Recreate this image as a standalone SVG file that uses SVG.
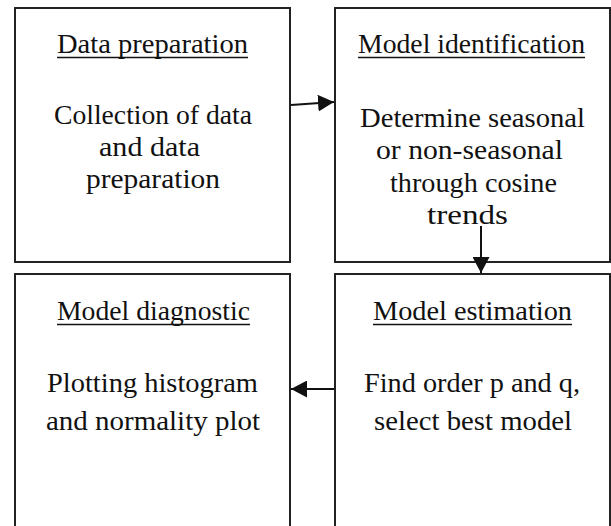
<svg xmlns="http://www.w3.org/2000/svg" width="611" height="526" viewBox="0 0 611 526">
  <defs>
    <style>
      .box { fill: #ffffff; stroke: #222222; stroke-width: 2; }
      .t { font-family: "Liberation Serif", "DejaVu Serif", serif; font-size: 28px; fill: #111111; text-anchor: middle; }
      .u { stroke: #111111; stroke-width: 1.3; }
      .edge { stroke: #111111; stroke-width: 2; fill: none; marker-end: url(#arrow); }
    </style>
    <marker id="arrow" viewBox="0 0 16 17" refX="16" refY="8.5" markerWidth="16" markerHeight="17" markerUnits="userSpaceOnUse" orient="auto">
      <path d="M0,0 L16,8.5 L0,17 Z" fill="#111111"/>
    </marker>
  </defs>
  <rect width="611" height="526" fill="#ffffff"/>

  <g id="data-preparation">
    <rect class="box" x="15" y="8" width="275" height="254"/>
    <text class="t" x="152.5" y="53" textLength="191" lengthAdjust="spacingAndGlyphs">Data preparation</text>
    <line class="u" x1="57" y1="57.5" x2="248" y2="57.5"/>
    <text class="t" x="153" y="124" textLength="198" lengthAdjust="spacingAndGlyphs">Collection of data</text>
    <text class="t" x="149.5" y="156" textLength="101" lengthAdjust="spacingAndGlyphs">and data</text>
    <text class="t" x="153" y="188" textLength="134" lengthAdjust="spacingAndGlyphs">preparation</text>
  </g>

  <g id="model-identification">
    <rect class="box" x="335" y="8" width="275" height="254"/>
    <text class="t" x="471.5" y="53" textLength="227" lengthAdjust="spacingAndGlyphs">Model identification</text>
    <line class="u" x1="358" y1="57.5" x2="585" y2="57.5"/>
    <text class="t" x="472.5" y="127" textLength="225" lengthAdjust="spacingAndGlyphs">Determine seasonal</text>
    <text class="t" x="469.5" y="159" textLength="187" lengthAdjust="spacingAndGlyphs">or non-seasonal</text>
    <text class="t" x="473.5" y="192" textLength="167" lengthAdjust="spacingAndGlyphs">through cosine</text>
    <text class="t" x="467.5" y="224" textLength="81" lengthAdjust="spacingAndGlyphs">trends</text>
  </g>

  <g id="model-diagnostic">
    <rect class="box" x="15" y="274" width="275" height="262"/>
    <text class="t" x="153.5" y="320" textLength="193" lengthAdjust="spacingAndGlyphs">Model diagnostic</text>
    <line class="u" x1="57" y1="324.5" x2="250" y2="324.5"/>
    <text class="t" x="152.5" y="392" textLength="211" lengthAdjust="spacingAndGlyphs">Plotting histogram</text>
    <text class="t" x="153" y="430" textLength="214" lengthAdjust="spacingAndGlyphs">and normality plot</text>
  </g>

  <g id="model-estimation">
    <rect class="box" x="335" y="274" width="275" height="262"/>
    <text class="t" x="472.5" y="320" textLength="199" lengthAdjust="spacingAndGlyphs">Model estimation</text>
    <line class="u" x1="373" y1="324.5" x2="572" y2="324.5"/>
    <text class="t" x="472" y="392" textLength="216" lengthAdjust="spacingAndGlyphs">Find order p and q,</text>
    <text class="t" x="473" y="430" textLength="198" lengthAdjust="spacingAndGlyphs">select best model</text>
  </g>

  <g id="connectors">
    <line class="edge" x1="291" y1="105" x2="334" y2="102"/>
    <line class="edge" x1="481" y1="226" x2="481" y2="273"/>
    <line class="edge" x1="334" y1="389" x2="291" y2="389"/>
  </g>
</svg>
